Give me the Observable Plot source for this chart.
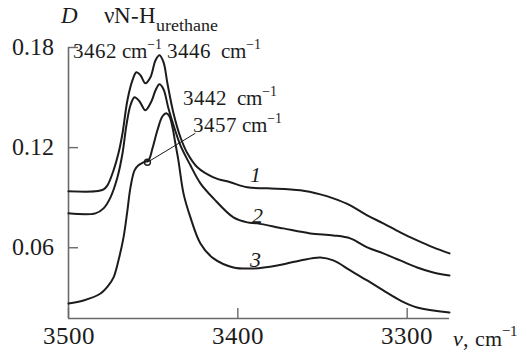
<!DOCTYPE html>
<html><head><meta charset="utf-8">
<script src="https://cdn.jsdelivr.net/npm/d3@7"></script>
<script src="https://cdn.jsdelivr.net/npm/@observablehq/plot@0.6"></script>
<style>
@font-face { font-family: "SpecSerif"; src: local("Liberation Serif"), local("LiberationSerif"); font-style: normal; }
@font-face { font-family: "SpecSerif"; src: local("Liberation Serif Italic"), local("LiberationSerif-Italic"); font-style: italic; }
html,body{margin:0;padding:0;background:#fff;}
svg{display:block}
</style>
</head><body><div id="chart"></div>
<script>
// Wavenumber (cm^-1) and optical density D for the three spectra
const nu1 = [3500,3484.1,3479.3,3477.0,3473.4,3470.5,3468.1,3465.2,3462.2,3459.9,3457.5,3454.6,3451.6,3448.6,3446.3,3443.9,3441.6,3438.0,3433.9,3429.8,3423.9,3414.4,3404.4,3394.4,3382.6,3363.1,3351.3,3343.6,3333.6,3323.6,3314.1,3304.1,3294.1,3284.6,3275.0];
const D1  = [0.0938,0.0938,0.0950,0.0974,0.1064,0.1166,0.1286,0.1484,0.1604,0.1652,0.1634,0.1586,0.1622,0.1724,0.1754,0.1712,0.1586,0.1406,0.1262,0.1166,0.1082,0.1022,0.0992,0.0962,0.0956,0.0944,0.0920,0.0896,0.0854,0.0794,0.0746,0.0692,0.0644,0.0602,0.0566];
const nu2 = [3500,3484.1,3479.3,3475.2,3471.1,3468.1,3465.8,3463.4,3461.0,3458.1,3454.6,3451.0,3448.6,3446.3,3443.9,3441.0,3437.4,3433.9,3428.0,3422.1,3414.4,3402.6,3394.4,3388.5,3373.1,3357.2,3343.6,3333.6,3323.6,3314.1,3304.1,3294.1,3284.6,3275.0];
const D2  = [0.0806,0.0806,0.0836,0.0902,0.1022,0.1166,0.1334,0.1454,0.1502,0.1478,0.1424,0.1478,0.1544,0.1580,0.1550,0.1436,0.1316,0.1214,0.1094,0.0986,0.0896,0.0782,0.0752,0.0746,0.0716,0.0686,0.0674,0.0656,0.0602,0.0566,0.0524,0.0482,0.0452,0.0434];
const nu3 = [3500,3491.1,3481.1,3476.4,3473.4,3470.5,3467.5,3465.2,3463.4,3461.0,3458.7,3455.7,3452.8,3450.4,3447.5,3444.5,3442.2,3440.4,3438.6,3436.9,3435.1,3432.1,3428.0,3422.1,3414.4,3402.6,3390.8,3376.7,3363.1,3351.3,3343.6,3333.6,3323.6,3314.1,3304.1,3294.1,3275.0];
const D3  = [0.0266,0.0284,0.0326,0.0374,0.0422,0.0524,0.0662,0.0824,0.0962,0.1064,0.1094,0.1112,0.1124,0.1196,0.1304,0.1388,0.1406,0.1388,0.1322,0.1226,0.1124,0.0926,0.0782,0.0626,0.0536,0.0482,0.0476,0.0494,0.0524,0.0542,0.0524,0.0464,0.0404,0.0344,0.0284,0.0242,0.0212];

const xTicks = [3500, 3400, 3300];
const yTicks = [0.06, 0.12, 0.18];
const xDomain = [3500, 3275];
const yDomain = [0.0176, 0.18];

// Peak annotations
const peakText = ["3462 cm^−1", "3446  cm^−1", "3442  cm^−1", "3457 cm^−1"];
const peakNu   = [3497.6, 3441.6, 3432.1, 3426.2];
const peakD    = [0.1736, 0.1736, 0.1454, 0.1292];
// Leader from the "3457" label to the shoulder of curve 3
const leaderNu = [3425.1, 3453.4];
const leaderD  = [0.1286, 0.1112];
// Curve numbers
const curveNames = ["1", "2", "3"];
const curveNu = [3389.6, 3388.5, 3389.6];
const curveD  = [0.0992, 0.0746, 0.0482];

const rows = [];
[[nu1, D1, "1"], [nu2, D2, "2"], [nu3, D3, "3"]].forEach(([n, d, s]) =>
  n.forEach((v, i) => rows.push({nu: v, D: d[i], series: s})));
const peaks = peakText.map((t, i) => ({t, nu: peakNu[i], D: peakD[i]}));
const curveLbl = curveNames.map((t, i) => ({t, nu: curveNu[i], D: curveD[i]}));
const leader = [{x1: leaderNu[0], y1: leaderD[0], x2: leaderNu[1], y2: leaderD[1]}];

const W = 524, H = 356, mL = 68, mR = 75, mT = 47, mB = 38;
const axisColor = "#6a6a6a", ink = "#1c1c1c";
const serif = "SpecSerif, 'Liberation Serif', serif";

const chart = Plot.plot({
  width: W, height: H,
  marginLeft: mL, marginRight: mR, marginTop: mT, marginBottom: mB,
  x: {domain: xDomain, axis: null},
  y: {domain: yDomain, axis: null},
  style: "font-family: SpecSerif, 'Liberation Serif', serif; font-size: 24px; color: #1c1c1c; background: #fff;",
  marks: [
    Plot.ruleX([xDomain[0]], {stroke: axisColor, strokeWidth: 1.6}),
    Plot.ruleY([yDomain[0]], {stroke: axisColor, strokeWidth: 1.6}),
    Plot.tickX(xTicks, {x: d => d, stroke: axisColor, strokeWidth: 1.4, insetTop: (H - mT - mB) - 10}),
    Plot.tickY(yTicks, {y: d => d, stroke: axisColor, strokeWidth: 1.4, insetRight: (W - mL - mR) - 10}),
    Plot.axisX({ticks: xTicks, tickSize: 0, tickPadding: 8, fontSize: 25, fontFamily: serif, label: null, tickFormat: d3.format("d")}),
    Plot.axisY({ticks: yTicks, tickSize: 0, tickPadding: 15, fontSize: 24, fontFamily: serif, label: null, tickFormat: d3.format(".2f")}),
    Plot.line(rows, {x: "nu", y: "D", z: "series", stroke: ink, strokeWidth: 2, curve: "catmull-rom"}),
    Plot.link(leader, {x1: "x1", y1: "y1", x2: "x2", y2: "y2", stroke: ink, strokeWidth: 1}),
    Plot.dot([leader[0]], {x: "x2", y: "y2", r: 3, stroke: ink, strokeWidth: 1.4, fill: "none"}),
    Plot.text(peaks, {x: "nu", y: "D", text: "t", textAnchor: "start", lineAnchor: "bottom", fontSize: 21, fontFamily: serif, fill: ink}),
    Plot.text(curveLbl, {x: "nu", y: "D", text: "t", textAnchor: "middle", lineAnchor: "bottom", fontSize: 22, fontFamily: serif, fontStyle: "italic", fill: ink}),
    Plot.text(["D"], {frameAnchor: "top-left", dx: -8, dy: -25, textAnchor: "start", lineAnchor: "bottom", fontSize: 23, fontFamily: serif, fontStyle: "italic", fill: ink}),
    Plot.text(["νN-H_urethane"], {frameAnchor: "top-left", dx: 35, dy: -25, textAnchor: "start", lineAnchor: "bottom", fontSize: 23, fontFamily: serif, fill: ink}),
    Plot.text(["*ν*, cm^−1"], {frameAnchor: "bottom-right", dx: 3, dy: 27, textAnchor: "start", lineAnchor: "bottom", fontSize: 22, fontFamily: serif, fill: ink})
  ]
});
chart.setAttribute("font-family", serif);
document.getElementById("chart").appendChild(chart);

// Rich text: ^sup, _sub, *italic*
function applyFont(el) {
  el.setAttribute("font-family", serif);
  el.style.setProperty("font-family", serif, "important");
}
function richify(svg) {
  svg.querySelectorAll("g").forEach(g => { if (g.hasAttribute("font-family")) g.setAttribute("font-family", serif); });
  svg.querySelectorAll("text").forEach(t => {
    applyFont(t);
    t.style.setProperty("white-space", "pre");
    const s = t.textContent;
    if (!/[\^_*]/.test(s)) return;
    const fs = parseFloat(getComputedStyle(t).fontSize) || 20;
    t.textContent = "";
    const parts = s.split(/(\^\S+|_\S+|\*[^*]+\*)/).filter(p => p);
    let shift = 0;
    parts.forEach(p => {
      const ts = document.createElementNS("http://www.w3.org/2000/svg", "tspan");
      let target = 0, txt = p;
      if (p[0] === "^") { txt = p.slice(1); target = -0.45 * fs; ts.setAttribute("font-size", 0.68 * fs); }
      else if (p[0] === "_") { txt = p.slice(1); target = 0.38 * fs; ts.setAttribute("font-size", 0.8 * fs); }
      else if (p[0] === "*") { txt = p.slice(1, -1); ts.setAttribute("font-style", "italic"); }
      ts.setAttribute("dy", target - shift); shift = target;
      applyFont(ts);
      ts.textContent = txt;
      t.appendChild(ts);
    });
  });
}
richify(chart);

// Keep the serif family if anything rewrites it later
let guard = false;
const obs = new MutationObserver(() => {
  if (guard) return;
  guard = true;
  chart.querySelectorAll("text, tspan").forEach(el => {
    if (el.getAttribute("font-family") !== serif || el.style.getPropertyValue("font-family").indexOf("SpecSerif") < 0) applyFont(el);
  });
  if (chart.getAttribute("font-family") !== serif) chart.setAttribute("font-family", serif);
  guard = false;
});
obs.observe(chart, {attributes: true, subtree: true, attributeFilter: ["font-family", "style", "class"]});
</script></body></html>
